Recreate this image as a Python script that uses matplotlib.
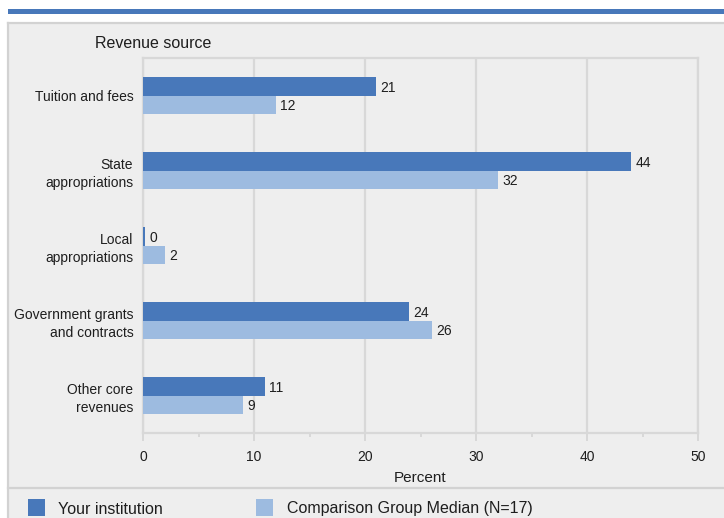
import matplotlib
matplotlib.use("Agg")
import matplotlib.pyplot as plt
from matplotlib.patches import Rectangle
from matplotlib.lines import Line2D
import numpy as np

plt.rcParams['font.family'] = ['Liberation Sans', 'DejaVu Sans']

categories = ["Tuition and fees", "State\nappropriations", "Local\nappropriations",
              "Government grants\nand contracts", "Other core\nrevenues"]
your_institution = [21, 44, 0.2, 24, 11]
comparison_median = [12, 32, 2, 26, 9]
series_names = ["Your institution", "Comparison Group Median (N=17)"]
x_ticks = [0, 10, 20, 30, 40, 50]

DARK = "#4878BA"
LIGHT = "#9DBBE0"
PANEL = "#EEEEEE"
BORDER = "#D2D2D2"
GRID = "#D8D8D8"
TEXT = "#1E1E1E"

W, H = 724, 518
fig = plt.figure(figsize=(W / 100, H / 100), dpi=100)
fig.patch.set_facecolor("white")

def px_rect(x0, y0, x1, y1, z=-10, **kw):
    # pixel coords from top-left
    r = Rectangle((x0 / W, 1 - y1 / H), (x1 - x0) / W, (y1 - y0) / H,
                  transform=fig.transFigure, zorder=z, **kw)
    fig.patches.append(r)
    return r

def px_line(x0, y0, x1, y1, **kw):
    l = Line2D([x0 / W, x1 / W], [1 - y0 / H, 1 - y1 / H], transform=fig.transFigure,
               zorder=-5, **kw)
    fig.lines.append(l)

# top blue band
px_rect(8, 9, W + 2, 14, facecolor=DARK, edgecolor="none")
# panel
px_rect(8, 23, W + 5, H + 5, facecolor=PANEL, edgecolor="none")
px_line(8, 23, W, 23, color=BORDER, lw=1.6)
px_line(8, 23, 8, H, color=BORDER, lw=1.6)
px_line(8, 487.5, W, 487.5, color=BORDER, lw=1.6)

ax = fig.add_axes([143 / W, 1 - 433 / H, (698 - 143) / W, (433 - 58) / H])
ax.set_facecolor(PANEL)
ax.set_zorder(2)

y = np.arange(len(categories))
h = 0.25
b1 = ax.barh(y - h / 2, your_institution, height=h, color=DARK, zorder=3)
b2 = ax.barh(y + h / 2, comparison_median, height=h, color=LIGHT, zorder=3)

for bars, vals in ((b1, your_institution), (b2, comparison_median)):
    for bar, v in zip(bars, vals):
        ax.annotate(f"{v:.0f}", (bar.get_width(), bar.get_y() + bar.get_height() / 2),
                    xytext=(3, 0), textcoords="offset points", va="center_baseline",
                    ha="left", fontsize=10, color=TEXT, zorder=4)

ax.set_xlim(0, 50)
ax.set_ylim(len(categories) - 0.5, -0.5)
ax.set_yticks(y)
ax.set_yticklabels(categories, fontsize=10, color=TEXT, linespacing=1.4)
ax.tick_params(axis="y", length=0, pad=7)
ax.set_xticks(x_ticks)
ax.set_xticklabels([str(t) for t in x_ticks], fontsize=10, color=TEXT)
ax.set_xticks(np.arange(5, 50, 10), minor=True)
ax.tick_params(axis="x", which="major", length=6, width=1.4, color=GRID, pad=6)
ax.tick_params(axis="x", which="minor", length=3, width=1.4, color=GRID)
ax.grid(axis="x", which="major", color=GRID, lw=1.6, zorder=0)
ax.set_axisbelow(True)
for s in ax.spines.values():
    s.set_color(GRID)
    s.set_linewidth(1.6)

ax.set_xlabel("Percent", fontsize=11, color=TEXT, labelpad=5)
fig.text(95 / W, 1 - 43 / H, "Revenue source", fontsize=11.5, color=TEXT, va="center", ha="left")

# legend
leg_items = [(28, DARK, 58, series_names[0]), (256, LIGHT, 287, series_names[1])]
for sx, col, tx, label in leg_items:
    px_rect(sx, 499, sx + 17, 516, z=3, facecolor=col, edgecolor="none")
    fig.text(tx / W, 1 - 509 / H, label, fontsize=11.5, color=TEXT, va="center", ha="left")

fig.savefig("out.png", dpi=100, facecolor=fig.get_facecolor())
